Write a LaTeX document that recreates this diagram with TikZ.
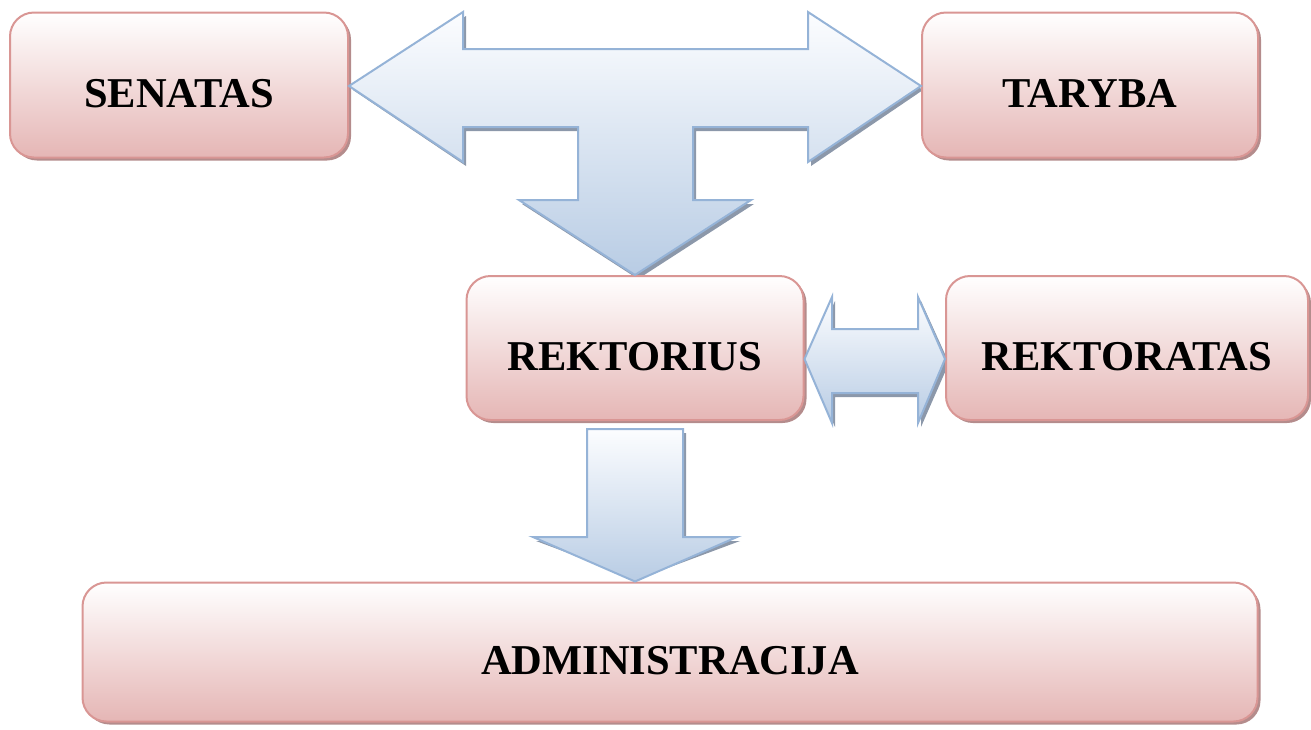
\documentclass[tikz,border=0pt]{standalone}
\usepackage{fontspec}
\setmainfont{Liberation Serif}
\usetikzlibrary{shadows}
\definecolor{boxborder}{RGB}{217,150,148}
\definecolor{boxbottom}{RGB}{229,182,181}
\definecolor{boxshadow}{RGB}{180,140,140}
\definecolor{arrborder}{RGB}{149,179,215}
\definecolor{arrtop}{RGB}{252,253,255}
\definecolor{arrbottom}{RGB}{184,204,228}
\definecolor{arrshadow}{RGB}{140,152,170}
\newcommand{\lowered}[1]{\raisebox{-9pt}[\height][\depth]{#1}}
\tikzset{
  box/.style={draw=boxborder, line width=2pt, rounded corners=24pt,
    top color=white, bottom color=boxbottom,
    drop shadow={shadow xshift=3pt, shadow yshift=-3pt, fill=boxshadow, opacity=1},
    font=\fontsize{42.5}{50}\selectfont\bfseries, inner sep=0pt},
  blockarrow/.style={draw=arrborder, line width=2pt, line join=miter,
    top color=arrtop, bottom color=arrbottom},
  arrowshadow/.style={fill=arrshadow, draw=none}
}
\begin{document}
\begin{tikzpicture}[x=1pt,y=-1pt]
\useasboundingbox (0,0) rectangle (1311,729);
% arrow shadows
\fill[arrowshadow, shift={(3,4)}] (350,86) -- (463,12) -- (463,49) -- (808,49) -- (808,12) -- (920,86) -- (808,162) -- (808,127) -- (693,127) -- (693,200) -- (751,200) -- (635,275) -- (519,200) -- (578,200) -- (578,127) -- (463,127) -- (463,162) -- cycle;
\fill[arrowshadow, shift={(3,4)}] (804,359) -- (832,297) -- (832,329) -- (918,329) -- (918,297) -- (946,359) -- (918,423) -- (918,393) -- (832,393) -- (832,423) -- cycle;
\fill[arrowshadow, shift={(3,4)}] (587,429) -- (683,429) -- (683,537) -- (737,537) -- (635,575) -- (533,537) -- (587,537) -- cycle;
% boxes
\node[box, minimum width=338pt, minimum height=145pt] (sen) at (179,85) {\lowered{SENATAS}};
\node[box, minimum width=336pt, minimum height=145pt] (tar) at (1090,85) {\lowered{TARYBA}};
\node[box, minimum width=337pt, minimum height=144pt] (rek) at (635,348) {\lowered{REKTORIUS}};
\node[box, minimum width=362pt, minimum height=144pt] (rkt) at (1127,348) {\lowered{REKTORATAS}};
\node[box, minimum width=1175pt, minimum height=139pt] (adm) at (670,652) {\lowered{ADMINISTRACIJA}};
% block arrows
\path[blockarrow] (sen.east |- 0,86) -- (463,12) -- (463,49) -- (808,49) -- (808,12) -- (tar.west |- 0,86) -- (808,162) -- (808,127) -- (693,127) -- (693,200) -- (751,200) -- (rek.north) -- (519,200) -- (578,200) -- (578,127) -- (463,127) -- (463,162) -- cycle;
\path[blockarrow] (rek.east |- 0,359) -- (832,297) -- (832,329) -- (918,329) -- (918,297) -- (rkt.west |- 0,359) -- (918,423) -- (918,393) -- (832,393) -- (832,423) -- cycle;
\path[blockarrow] (587,429) -- (683,429) -- (683,537) -- (737,537) -- (adm.north -| 635,0) -- (533,537) -- (587,537) -- cycle;
\end{tikzpicture}
\end{document}
